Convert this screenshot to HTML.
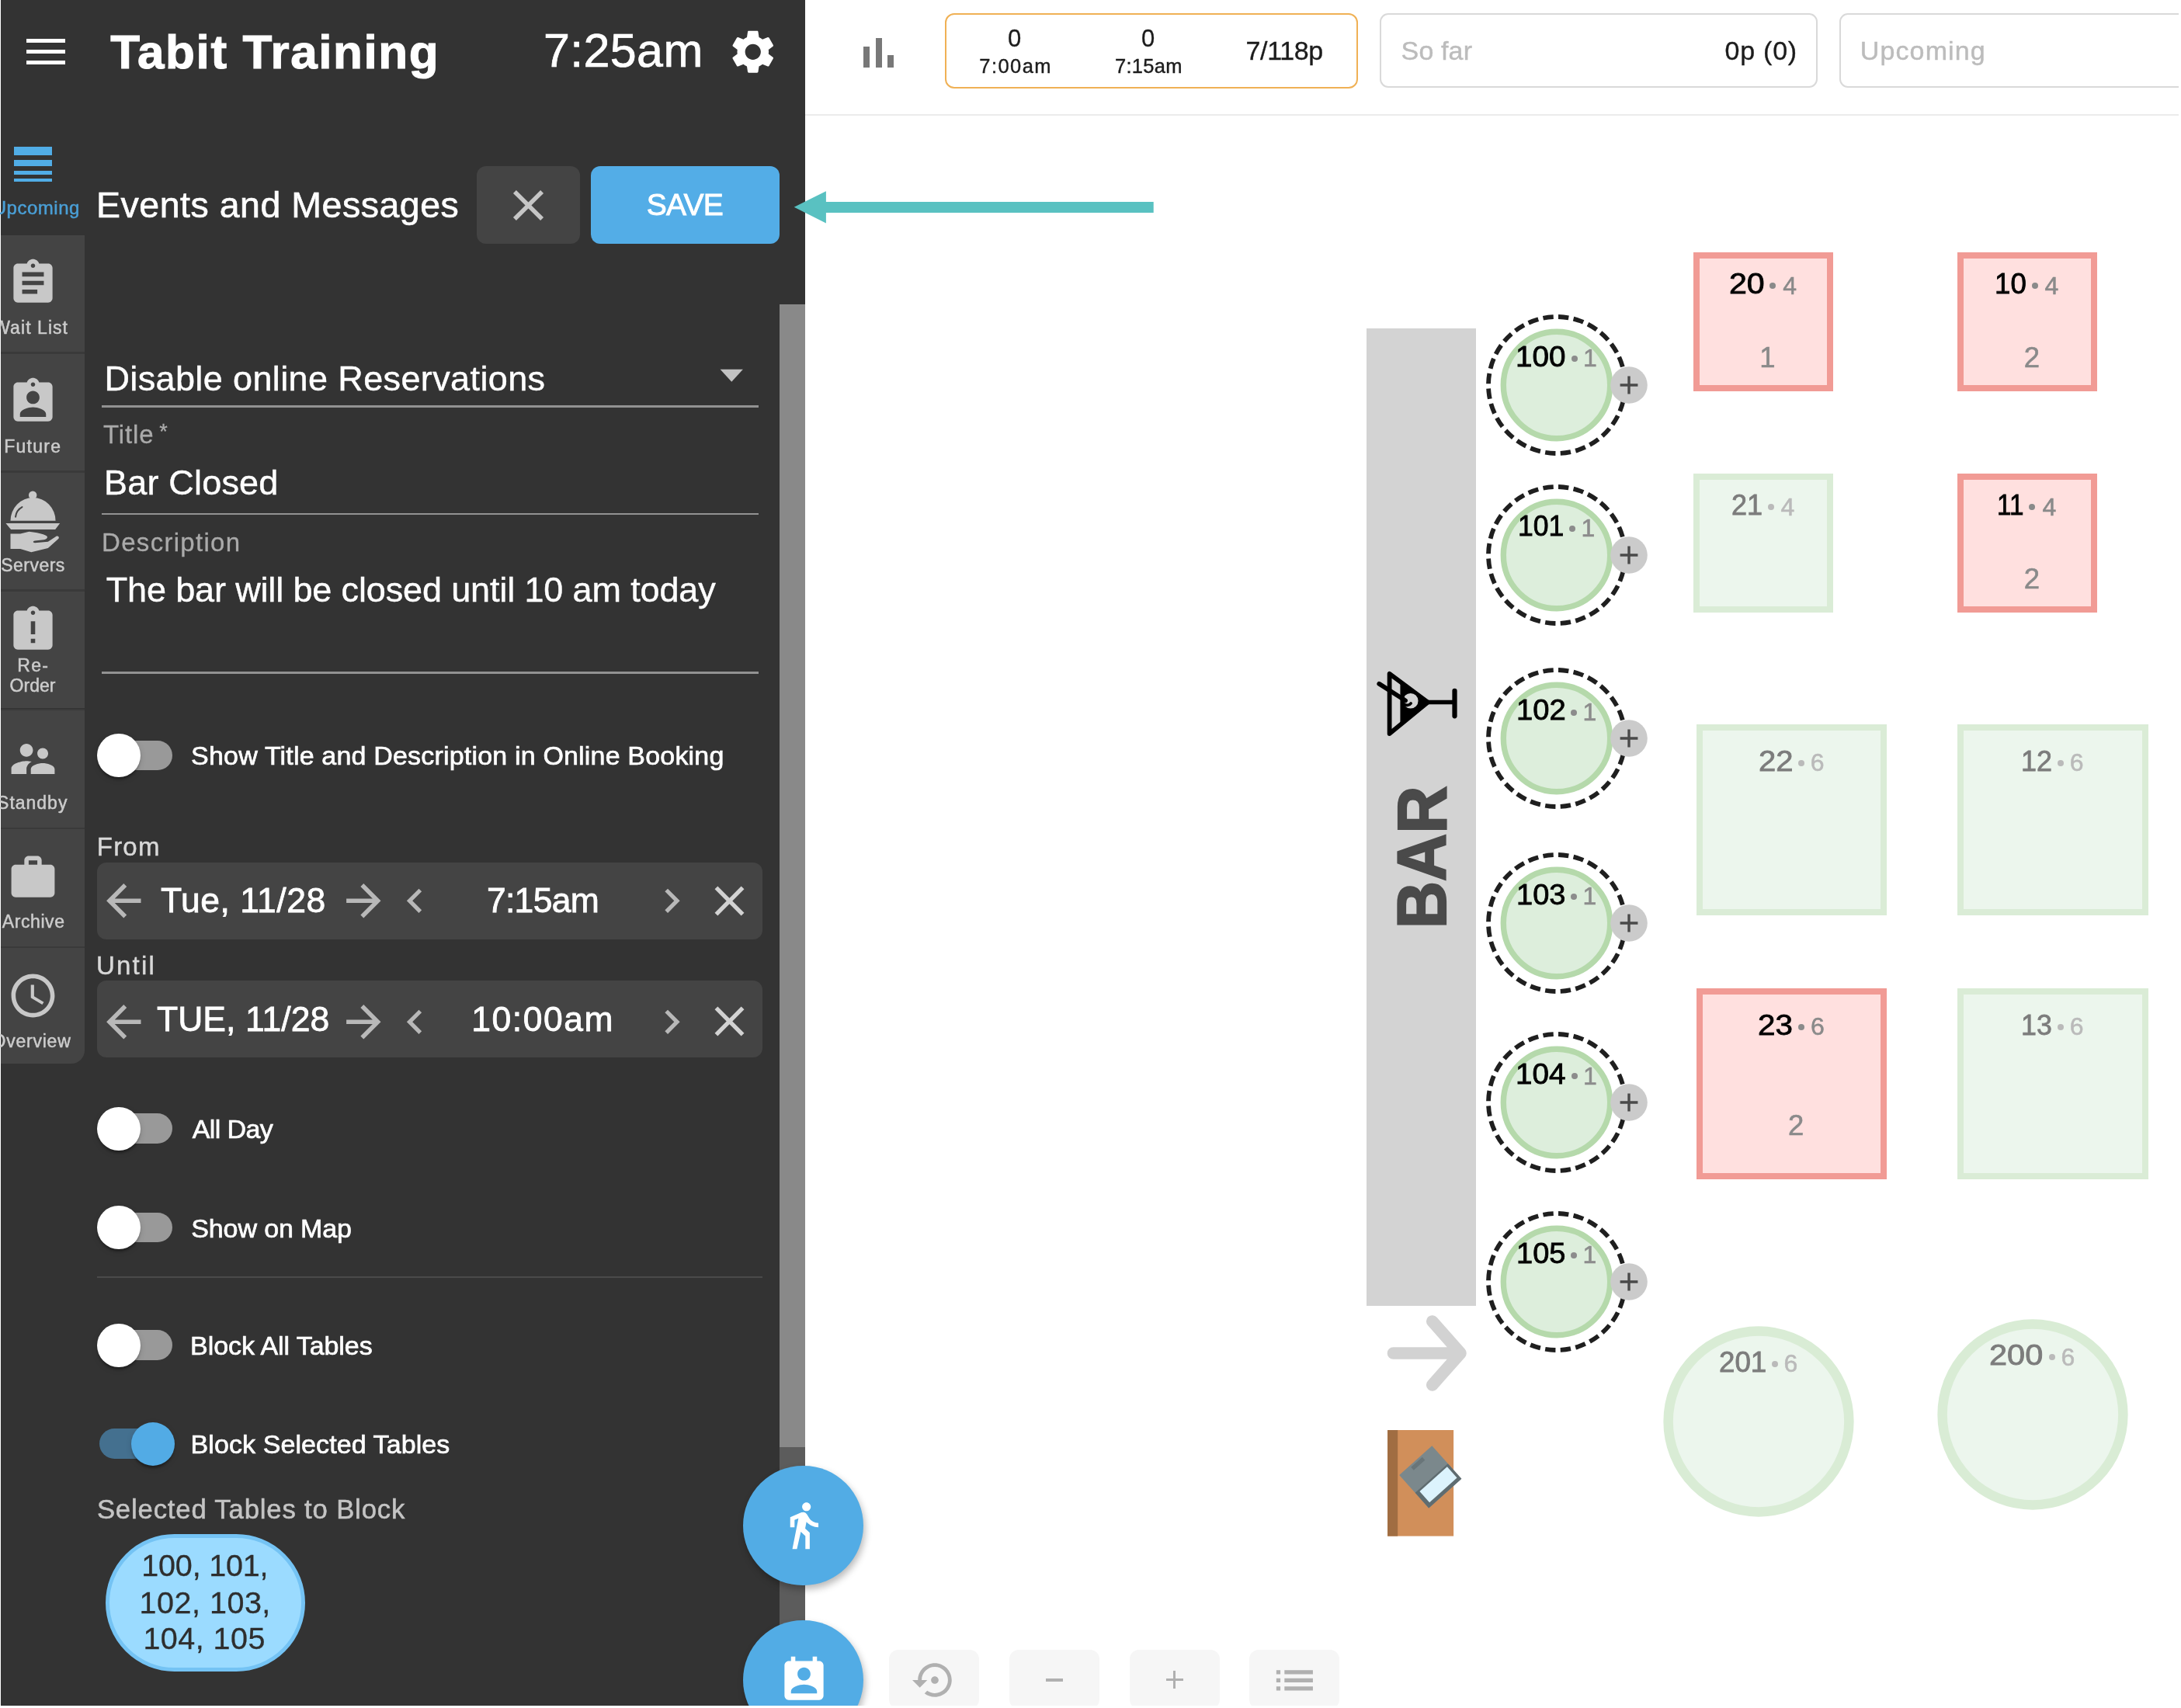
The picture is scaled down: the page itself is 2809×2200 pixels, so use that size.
<!DOCTYPE html>
<html><head><meta charset="utf-8"><title>Tabit Training</title>
<style>
html,body{margin:0;padding:0;}
body{width:2809px;height:2200px;overflow:hidden;background:#fff;position:relative;font-family:"Liberation Sans",sans-serif;}
.b{position:absolute;display:block;}
.t{position:absolute;white-space:nowrap;line-height:1;}
</style></head><body>
<div id="root" style="position:absolute;left:0;top:0;width:2809px;height:2200px;will-change:transform;">
<div class="b" style="left:1px;top:0px;width:1036px;height:2197px;background:#333333;"></div>
<div class="b" style="left:1003.9px;top:392.1px;width:32.9px;height:1805px;background:#5c5c5c;"></div>
<div class="b" style="left:1003.9px;top:392.1px;width:32.9px;height:1471.5px;background:#898989;"></div>
<div class="b" style="left:34px;top:49.5px;width:50px;height:5px;background:#fff;"></div>
<div class="b" style="left:34px;top:63.8px;width:50px;height:5px;background:#fff;"></div>
<div class="b" style="left:34px;top:78px;width:50px;height:5px;background:#fff;"></div>
<div class="t " style="left:142.2px;top:35.9px;font-size:62px;color:#fff;letter-spacing:1.59px;font-weight:bold;-webkit-text-stroke:1.1px #fff;">Tabit Training</div>
<div class="t " style="left:700.0px;top:35.2px;font-size:61px;color:#fff;letter-spacing:0.35px;-webkit-text-stroke:0.7px #fff;">7:25am</div>
<svg class="b" style="left:936.2px;top:33px;" width="67.5" height="67.5" viewBox="0 0 24 24"><path fill="#fff" d="M19.14 12.94c.04-.3.06-.61.06-.94 0-.32-.02-.64-.07-.94l2.03-1.58c.18-.14.23-.41.12-.61l-1.92-3.32c-.12-.22-.37-.29-.59-.22l-2.39.96c-.5-.38-1.03-.7-1.62-.94l-.36-2.54c-.04-.24-.24-.41-.48-.41h-3.84c-.24 0-.43.17-.47.41l-.36 2.54c-.59.24-1.13.57-1.62.94l-2.39-.96c-.22-.08-.47 0-.59.22L2.74 8.87c-.12.21-.08.47.12.61l2.03 1.58c-.05.3-.09.63-.09.94s.02.64.07.94l-2.03 1.58c-.18.14-.23.41-.12.61l1.92 3.32c.12.22.37.29.59.22l2.39-.96c.5.38 1.03.7 1.62.94l.36 2.54c.05.24.24.41.48.41h3.84c.24 0 .44-.17.47-.41l.36-2.54c.59-.24 1.13-.56 1.62-.94l2.39.96c.22.08.47 0 .59-.22l1.92-3.32c.12-.22.07-.47-.12-.61l-2.01-1.58zM12 15.6c-1.98 0-3.6-1.62-3.6-3.6s1.62-3.6 3.6-3.6 3.6 1.62 3.6 3.6-1.62 3.6-3.6 3.6z"/></svg>
<div class="b" style="left:17.6px;top:189px;width:49.8px;height:11.4px;background:#51ade6;"></div>
<div class="b" style="left:17.6px;top:206px;width:49.8px;height:8px;background:#51ade6;"></div>
<div class="b" style="left:17.6px;top:219.7px;width:49.8px;height:5.6px;background:#51ade6;"></div>
<div class="b" style="left:17.6px;top:230.2px;width:49.8px;height:3.5px;background:#51ade6;"></div>
<div class="t" style="left:-9.3px;top:255.7px;font-size:24px;color:#4a9fd6;letter-spacing:0.52px;-webkit-text-stroke:0.5px #4a9fd6;">Upcoming</div>
<div class="b" style="left:1px;top:302.6px;width:107.8px;height:150.6px;background:#444444;"></div>
<div class="b" style="left:1px;top:453.20000000000005px;width:107.8px;height:2.5px;background:#3a3a3a;"></div>
<svg class="b" style="left:9px;top:331.1px;" width="67" height="67" viewBox="0 0 24 24"><path fill="#c8c8c8" d="M19 3h-4.18C14.4 1.84 13.3 1 12 1c-1.3 0-2.4.84-2.82 2H5c-1.1 0-2 .9-2 2v14c0 1.1.9 2 2 2h14c1.1 0 2-.9 2-2V5c0-1.1-.9-2-2-2zm-7 0c.55 0 1 .45 1 1s-.45 1-1 1-1-.45-1-1 .45-1 1-1zm2 14H7v-2h7v2zm3-4H7v-2h10v2zm0-4H7V7h10v2z"/></svg>
<div class="b" style="left:1px;top:455.7px;width:107.8px;height:150.6px;background:#444444;"></div>
<div class="b" style="left:1px;top:606.3px;width:107.8px;height:2.5px;background:#3a3a3a;"></div>
<svg class="b" style="left:9px;top:484.2px;" width="67" height="67" viewBox="0 0 24 24"><path fill="#c8c8c8" d="M19 3h-4.18C14.4 1.84 13.3 1 12 1c-1.3 0-2.4.84-2.82 2H5c-1.1 0-2 .9-2 2v14c0 1.1.9 2 2 2h14c1.1 0 2-.9 2-2V5c0-1.1-.9-2-2-2zm-7 0c.55 0 1 .45 1 1s-.45 1-1 1-1-.45-1-1 .45-1 1-1zm0 4c1.66 0 3 1.34 3 3s-1.34 3-3 3-3-1.34-3-3 1.34-3 3-3zm6 12H6v-1.4c0-2 4-3.1 6-3.1s6 1.1 6 3.1V19z"/></svg>
<div class="b" style="left:1px;top:608.8px;width:107.8px;height:150.6px;background:#444444;"></div>
<div class="b" style="left:1px;top:759.4px;width:107.8px;height:2.5px;background:#3a3a3a;"></div>
<svg class="b" style="left:0px;top:600.9px" width="82.46" height="116.2" viewBox="0 0 440 620"><g fill="#c8c8c8"><circle cx="225" cy="196" r="28"/><path d="M72 372A155 158 0 0 1 382 372Z"/><path d="M40 390H412L380 432H75Z"/><path d="M72 462H140L200 447C250 452 300 462 322 478C330 488 322 500 300 503L240 510C225 512 225 524 240 524L330 516L385 480C400 472 412 488 400 498L330 560L215 588L140 565H72Z"/></g><path d="M107 345C110 315 130 290 152 278" fill="none" stroke="#444" stroke-width="11" stroke-linecap="round"/></svg>
<div class="b" style="left:1px;top:761.9px;width:107.8px;height:150.6px;background:#444444;"></div>
<div class="b" style="left:1px;top:912.5px;width:107.8px;height:2.5px;background:#3a3a3a;"></div>
<svg class="b" style="left:9px;top:777.6px;" width="67" height="67" viewBox="0 0 24 24"><path fill="#c8c8c8" d="M19 3h-4.18C14.4 1.84 13.3 1 12 1c-1.3 0-2.4.84-2.82 2H5c-1.1 0-2 .9-2 2v14c0 1.1.9 2 2 2h14c1.1 0 2-.9 2-2V5c0-1.1-.9-2-2-2zm-6 15h-2v-2h2v2zm0-4h-2V8h2v6zm-1-9c-.55 0-1-.45-1-1s.45-1 1-1 1 .45 1 1-.45 1-1 1z"/></svg>
<div class="t " style="left:22.2px;top:845.8px;font-size:23px;color:#ccc;letter-spacing:1.38px;-webkit-text-stroke:0.5px #ccc;">Re-</div>
<div class="t " style="left:12.5px;top:871.7px;font-size:23px;color:#ccc;letter-spacing:0.06px;-webkit-text-stroke:0.5px #ccc;">Order</div>
<div class="b" style="left:1px;top:915.0px;width:107.8px;height:150.6px;background:#444444;"></div>
<div class="b" style="left:1px;top:1065.6px;width:107.8px;height:2.5px;background:#3a3a3a;"></div>
<svg class="b" style="left:9px;top:943.5px;" width="67" height="67" viewBox="0 0 24 24"><path fill="#c8c8c8" d="M16.5 12c1.38 0 2.49-1.12 2.49-2.5S17.88 7 16.5 7C15.12 7 14 8.12 14 9.5s1.12 2.5 2.5 2.5zM9 11c1.66 0 2.99-1.34 2.99-3S10.66 5 9 5C7.34 5 6 6.34 6 8s1.34 3 3 3zm7.5 3c-1.83 0-5.5.92-5.5 2.75V19h11v-2.25c0-1.83-3.67-2.75-5.5-2.75zM9 13c-2.33 0-7 1.17-7 3.5V19h7v-2.25c0-.85.33-2.34 2.37-3.47C10.5 13.1 9.66 13 9 13z"/></svg>
<div class="b" style="left:1px;top:1068.1px;width:107.8px;height:150.6px;background:#444444;"></div>
<div class="b" style="left:1px;top:1218.6999999999998px;width:107.8px;height:2.5px;background:#3a3a3a;"></div>
<svg class="b" style="left:9px;top:1096.6px;" width="67" height="67" viewBox="0 0 24 24"><path fill="#c8c8c8" d="M20 6h-4V4c0-1.11-.89-2-2-2h-4c-1.11 0-2 .89-2 2v2H4c-1.11 0-1.99.89-1.99 2L2 19c0 1.11.89 2 2 2h16c1.11 0 2-.89 2-2V8c0-1.11-.89-2-2-2zm-6 0h-4V4h4v2z"/></svg>
<div class="b" style="left:1px;top:1221.2px;width:107.8px;height:149.3px;background:#444444;border-bottom-right-radius:17px;"></div>
<svg class="b" style="left:9px;top:1248.8px;" width="67" height="67" viewBox="0 0 24 24"><path fill="#c8c8c8" d="M11.99 2C6.47 2 2 6.48 2 12s4.47 10 9.99 10C17.52 22 22 17.52 22 12S17.52 2 11.99 2zM12 20c-4.42 0-8-3.58-8-8s3.58-8 8-8 8 3.58 8 8-3.58 8-8 8zm.5-13H11v6l5.25 3.15.75-1.23-4.5-2.67z"/></svg>
<div class="t" style="left:-8.8px;top:410.5px;font-size:23px;color:#ccc;letter-spacing:1.06px;-webkit-text-stroke:0.5px #ccc;">Wait List</div>
<div class="t" style="left:5.2px;top:563.6px;font-size:23px;color:#ccc;letter-spacing:1.26px;-webkit-text-stroke:0.5px #ccc;">Future</div>
<div class="t" style="left:1.2px;top:716.7px;font-size:23px;color:#ccc;letter-spacing:0.48px;-webkit-text-stroke:0.5px #ccc;">Servers</div>
<div class="t" style="left:-3.9px;top:1022.9px;font-size:23px;color:#ccc;letter-spacing:0.98px;-webkit-text-stroke:0.5px #ccc;">Standby</div>
<div class="t" style="left:2.8px;top:1176.0px;font-size:23px;color:#ccc;letter-spacing:0.58px;-webkit-text-stroke:0.5px #ccc;">Archive</div>
<div class="t" style="left:-10.4px;top:1329.6px;font-size:23px;color:#ccc;letter-spacing:0.76px;-webkit-text-stroke:0.5px #ccc;">Overview</div>
<div class="t " style="left:124.0px;top:241.1px;font-size:46.5px;color:#fff;letter-spacing:0.52px;-webkit-text-stroke:0.65px #fff;">Events and Messages</div>
<div class="b" style="left:614.3px;top:213.8px;width:133px;height:100px;background:#444444;border-radius:12px;"></div>
<svg class="b" style="left:647.3px;top:230.5px;" width="67" height="67" viewBox="0 0 24 24"><path fill="#c6c6c6" d="M19 6.41L17.59 5 12 10.59 6.41 5 5 6.41 10.59 12 5 17.59 6.41 19 12 13.41 17.59 19 19 17.59 13.41 12z"/></svg>
<div class="b" style="left:760.9px;top:213.8px;width:243.4px;height:100px;background:#53ade7;border-radius:12px;"></div>
<div class="t " style="left:832.7px;top:243.5px;font-size:39px;color:#fff;letter-spacing:-0.72px;-webkit-text-stroke:0.9px #fff;">SAVE</div>
<div class="t " style="left:134.4px;top:464.5px;font-size:45px;color:#fff;letter-spacing:0.38px;-webkit-text-stroke:0.45px #fff;">Disable online Reservations</div>
<svg class="b" style="left:927px;top:475px" width="31" height="18" viewBox="0 0 31 18"><path d="M0.6 0.8H29.9L15.25 16.7Z" fill="#c2c2c2"/></svg>
<div class="b" style="left:131px;top:522px;width:846px;height:2.8px;background:#929292;"></div>
<div class="t " style="left:133.0px;top:542.9px;font-size:33px;color:#aaa;letter-spacing:0.85px;-webkit-text-stroke:0.3px #aaa;">Title</div>
<div class="t " style="left:205.3px;top:543.3px;font-size:27px;color:#aaa;-webkit-text-stroke:0.3px #aaa;">*</div>
<div class="t " style="left:134.0px;top:599.1px;font-size:45px;color:#fff;letter-spacing:0.19px;-webkit-text-stroke:0.45px #fff;">Bar Closed</div>
<div class="b" style="left:131px;top:660.6px;width:846px;height:2.8px;background:#929292;"></div>
<div class="t " style="left:131.1px;top:681.9px;font-size:33px;color:#aaa;letter-spacing:1.29px;-webkit-text-stroke:0.3px #aaa;">Description</div>
<div class="t " style="left:136.7px;top:737.4px;font-size:45px;color:#fff;letter-spacing:-0.14px;-webkit-text-stroke:0.45px #fff;">The bar will be closed until 10 am today</div>
<div class="b" style="left:131px;top:865px;width:846px;height:2.8px;background:#929292;"></div>
<div class="b" style="left:128px;top:953.5px;width:94px;height:38.8px;background:#999999;border-radius:19.4px;"></div>
<div class="b" style="left:124.9px;top:945.0px;width:55.8px;height:55.8px;background:#fff;border-radius:50%;box-shadow:0 5.6px 2.8px -2.8px rgba(0,0,0,.2),0 2.8px 2.8px 0 rgba(0,0,0,.14),0 2.8px 8.4px 0 rgba(0,0,0,.12);"></div>
<div class="t " style="left:246.1px;top:956.0px;font-size:34px;color:#fff;letter-spacing:0.18px;-webkit-text-stroke:0.7px #fff;">Show Title and Description in Online Booking</div>
<div class="t " style="left:124.8px;top:1074.3px;font-size:33px;color:#d8d8d8;letter-spacing:1.21px;-webkit-text-stroke:0.45px #d8d8d8;">From</div>
<div class="b" style="left:125.3px;top:1110.6px;width:856.7px;height:99.9px;background:#444444;border-radius:12px;"></div>
<svg class="b" style="left:125.7px;top:1127.3px;" width="66.6" height="66.6" viewBox="0 0 24 24"><path fill="#b8b8b8" d="M20 11H7.83l5.59-5.59L12 4l-8 8 8 8 1.41-1.41L7.83 13H20v-2z"/></svg>
<div class="t " style="left:206.9px;top:1138.1px;font-size:44.5px;color:#fff;letter-spacing:0.50px;-webkit-text-stroke:0.8px #fff;">Tue, 11/28</div>
<svg class="b" style="left:435.2px;top:1127.3px;" width="66.6" height="66.6" viewBox="0 0 24 24"><path fill="#b8b8b8" d="M12 4l-1.41 1.41L16.17 11H4v2h12.17l-5.58 5.59L12 20l8-8z"/></svg>
<svg class="b" style="left:503.1px;top:1129.3999999999999px;" width="62.5" height="62.5" viewBox="0 0 24 24"><path fill="#b8b8b8" d="M15.41 7.41L14 6l-6 6 6 6 1.41-1.41L10.83 12z"/></svg>
<div class="t " style="left:626.9px;top:1138.1px;font-size:44.5px;color:#fff;letter-spacing:-0.70px;-webkit-text-stroke:0.8px #fff;">7:15am</div>
<svg class="b" style="left:833.8px;top:1129.3999999999999px;" width="62.5" height="62.5" viewBox="0 0 24 24"><path fill="#b8b8b8" d="M10 6L8.59 7.41 13.17 12l-4.58 4.59L10 18l6-6z"/></svg>
<svg class="b" style="left:907.4px;top:1128.1px;" width="65" height="65" viewBox="0 0 24 24"><path fill="#d2d2d2" d="M19 6.41L17.59 5 12 10.59 6.41 5 5 6.41 10.59 12 5 17.59 6.41 19 12 13.41 17.59 19 19 17.59 13.41 12z"/></svg>
<div class="t " style="left:124.0px;top:1227.1px;font-size:33px;color:#d8d8d8;letter-spacing:2.18px;-webkit-text-stroke:0.45px #d8d8d8;">Until</div>
<div class="b" style="left:125.3px;top:1263.3px;width:856.7px;height:99.1px;background:#444444;border-radius:12px;"></div>
<svg class="b" style="left:125.7px;top:1282.5px;" width="66.6" height="66.6" viewBox="0 0 24 24"><path fill="#b8b8b8" d="M20 11H7.83l5.59-5.59L12 4l-8 8 8 8 1.41-1.41L7.83 13H20v-2z"/></svg>
<div class="t " style="left:201.9px;top:1290.7px;font-size:44.5px;color:#fff;letter-spacing:0.06px;-webkit-text-stroke:0.8px #fff;">TUE, 11/28</div>
<svg class="b" style="left:435.2px;top:1282.5px;" width="66.6" height="66.6" viewBox="0 0 24 24"><path fill="#b8b8b8" d="M12 4l-1.41 1.41L16.17 11H4v2h12.17l-5.58 5.59L12 20l8-8z"/></svg>
<svg class="b" style="left:503.1px;top:1284.6px;" width="62.5" height="62.5" viewBox="0 0 24 24"><path fill="#b8b8b8" d="M15.41 7.41L14 6l-6 6 6 6 1.41-1.41L10.83 12z"/></svg>
<div class="t " style="left:607.3px;top:1290.7px;font-size:44.5px;color:#fff;letter-spacing:1.53px;-webkit-text-stroke:0.8px #fff;">10:00am</div>
<svg class="b" style="left:833.8px;top:1284.6px;" width="62.5" height="62.5" viewBox="0 0 24 24"><path fill="#b8b8b8" d="M10 6L8.59 7.41 13.17 12l-4.58 4.59L10 18l6-6z"/></svg>
<svg class="b" style="left:907.4px;top:1283.3px;" width="65" height="65" viewBox="0 0 24 24"><path fill="#d2d2d2" d="M19 6.41L17.59 5 12 10.59 6.41 5 5 6.41 10.59 12 5 17.59 6.41 19 12 13.41 17.59 19 19 17.59 13.41 12z"/></svg>
<div class="b" style="left:128px;top:1434.3px;width:94px;height:38.8px;background:#999999;border-radius:19.4px;"></div>
<div class="b" style="left:124.9px;top:1425.8px;width:55.8px;height:55.8px;background:#fff;border-radius:50%;box-shadow:0 5.6px 2.8px -2.8px rgba(0,0,0,.2),0 2.8px 2.8px 0 rgba(0,0,0,.14),0 2.8px 8.4px 0 rgba(0,0,0,.12);"></div>
<div class="t " style="left:247.8px;top:1436.9px;font-size:34px;color:#fff;letter-spacing:-0.62px;-webkit-text-stroke:0.7px #fff;">All Day</div>
<div class="b" style="left:128px;top:1561.6px;width:94px;height:38.8px;background:#999999;border-radius:19.4px;"></div>
<div class="b" style="left:124.9px;top:1553.1px;width:55.8px;height:55.8px;background:#fff;border-radius:50%;box-shadow:0 5.6px 2.8px -2.8px rgba(0,0,0,.2),0 2.8px 2.8px 0 rgba(0,0,0,.14),0 2.8px 8.4px 0 rgba(0,0,0,.12);"></div>
<div class="t " style="left:246.3px;top:1564.5px;font-size:34px;color:#fff;letter-spacing:-0.13px;-webkit-text-stroke:0.7px #fff;">Show on Map</div>
<div class="b" style="left:125px;top:1643.5px;width:857px;height:2.5px;background:#4a4a4a;"></div>
<div class="b" style="left:128px;top:1713.3px;width:94px;height:38.8px;background:#999999;border-radius:19.4px;"></div>
<div class="b" style="left:124.9px;top:1704.8px;width:55.8px;height:55.8px;background:#fff;border-radius:50%;box-shadow:0 5.6px 2.8px -2.8px rgba(0,0,0,.2),0 2.8px 2.8px 0 rgba(0,0,0,.14),0 2.8px 8.4px 0 rgba(0,0,0,.12);"></div>
<div class="t " style="left:245.1px;top:1716.2px;font-size:34px;color:#fff;letter-spacing:-0.07px;-webkit-text-stroke:0.7px #fff;">Block All Tables</div>
<div class="b" style="left:127.9px;top:1840.4px;width:94px;height:39px;background:#44708f;border-radius:19.5px;"></div>
<div class="b" style="left:169.1px;top:1831.9px;width:56px;height:56px;background:#52abe5;border-radius:50%;box-shadow:0 5.6px 2.8px -2.8px rgba(0,0,0,.2),0 2.8px 2.8px 0 rgba(0,0,0,.14),0 2.8px 8.4px 0 rgba(0,0,0,.12);"></div>
<div class="t " style="left:245.5px;top:1842.8px;font-size:34px;color:#fff;letter-spacing:0.09px;-webkit-text-stroke:0.7px #fff;">Block Selected Tables</div>
<div class="t " style="left:124.9px;top:1927.1px;font-size:34.7px;color:#c4c4c4;letter-spacing:0.83px;-webkit-text-stroke:0.55px #c4c4c4;">Selected Tables to Block</div>
<div class="b" style="left:136.2px;top:1975.8px;width:256.8px;height:177.5px;background:#9bdbff;border-radius:89px;box-sizing:border-box;border:5.2px solid #74c3f4;"></div>
<div class="t " style="left:182.3px;top:1997.4px;font-size:39.5px;color:#2e2e2e;letter-spacing:-0.19px;-webkit-text-stroke:0.3px #2e2e2e;">100, 101,</div>
<div class="t " style="left:179.6px;top:2044.5px;font-size:39.5px;color:#2e2e2e;letter-spacing:0.50px;-webkit-text-stroke:0.3px #2e2e2e;">102, 103,</div>
<div class="t " style="left:184.4px;top:2091.2px;font-size:39.5px;color:#2e2e2e;letter-spacing:0.46px;-webkit-text-stroke:0.3px #2e2e2e;">104, 105</div>
<div class="b" style="left:1037px;top:146.5px;width:1772px;height:2.2px;background:#ebebeb;"></div>
<div class="b" style="left:1112px;top:60.4px;width:8.2px;height:26.8px;background:#787878;"></div>
<div class="b" style="left:1127.5px;top:48.5px;width:8.2px;height:38.7px;background:#787878;"></div>
<div class="b" style="left:1142.8px;top:70.6px;width:8px;height:16.6px;background:#787878;"></div>
<div class="b" style="left:1217.3px;top:16.6px;width:531.3px;height:97.2px;background:#fff;box-sizing:border-box;border:2.2px solid #f0b155;border-radius:12px;"></div>
<div class="t " style="left:1298.1px;top:33.7px;font-size:31px;color:#1c1c1c;-webkit-text-stroke:0.3px #1c1c1c;">0</div>
<div class="t " style="left:1261.3px;top:72.6px;font-size:25.5px;color:#1c1c1c;letter-spacing:1.45px;-webkit-text-stroke:0.4px #1c1c1c;">7:00am</div>
<div class="t " style="left:1470.1px;top:33.7px;font-size:31px;color:#1c1c1c;-webkit-text-stroke:0.3px #1c1c1c;">0</div>
<div class="t " style="left:1436.1px;top:72.6px;font-size:25.5px;color:#1c1c1c;letter-spacing:0.25px;-webkit-text-stroke:0.4px #1c1c1c;">7:15am</div>
<div class="t " style="left:1604.5px;top:47.6px;font-size:34px;color:#1c1c1c;letter-spacing:-0.35px;-webkit-text-stroke:0.35px #1c1c1c;">7/118p</div>
<div class="b" style="left:1777.3px;top:16.8px;width:564.2px;height:96.2px;background:#fff;box-sizing:border-box;border:2.2px solid #d9d9d9;border-radius:11px;"></div>
<div class="t " style="left:1804.6px;top:47.6px;font-size:34px;color:#bcbcbc;letter-spacing:0.13px;-webkit-text-stroke:0.45px #bcbcbc;">So far</div>
<div class="t " style="left:2221.5px;top:47.6px;font-size:34px;color:#1c1c1c;letter-spacing:0.77px;-webkit-text-stroke:0.35px #1c1c1c;">0p (0)</div>
<div class="b" style="left:2368.5px;top:16.8px;width:500px;height:96.2px;background:#fff;box-sizing:border-box;border:2.2px solid #d9d9d9;border-radius:11px;"></div>
<div class="t " style="left:2395.8px;top:47.6px;font-size:34px;color:#bcbcbc;letter-spacing:1.12px;-webkit-text-stroke:0.45px #bcbcbc;">Upcoming</div>
<svg class="b" style="left:1015px;top:240px" width="480" height="54" viewBox="0 0 480 54"><path fill="#59c1c1" d="M7.7 26.7L48.9 6.2V20.1H470.7V33.9H48.9V47.5Z"/></svg>
<div class="b" style="left:1759.8px;top:423.2px;width:141.1px;height:1258.4px;background:#d3d3d3;"></div>
<div class="b" style="left:1863.9px;top:1191.5px;width:0;height:0;transform:rotate(-90deg) scale(0.9486,1);transform-origin:0 0;">
<div class="t " style="left:-4.6px;top:-76.9px;font-size:89.5px;color:#4a4a4a;font-weight:bold;-webkit-text-stroke:2.2px #4a4a4a;">BAR</div>
</div>
<svg class="b" style="left:1750px;top:840px" width="160" height="134" viewBox="0 0 719 602"><path d="M178 125L178 472L400 290Z" fill="none" stroke="#000" stroke-width="26" stroke-linejoin="round"/><path d="M240 168L400 290L240 424Z" fill="#000"/><circle cx="300" cy="282" r="44" fill="#d3d3d3"/><path d="M118 183L270 280" fill="none" stroke="#000" stroke-width="26" stroke-linecap="round"/><path d="M258 264A26 26 0 0 0 302 296" fill="none" stroke="#000" stroke-width="16" stroke-linecap="round"/><path d="M400 290H555" stroke="#000" stroke-width="25"/><path d="M555 224V370" stroke="#000" stroke-width="28" stroke-linecap="round"/></svg>
<div class="b" style="left:2181.3px;top:324.9px;width:179.4px;height:179.4px;background:#ffe0df;box-sizing:border-box;border:8.6px solid #f19b95;"></div>
<div class="t" style="left:2226.6px;top:348.1px;font-size:36px;color:#000;-webkit-text-stroke:0.8px #000;transform:scaleX(1.1423);transform-origin:0 50%;">20</div>
<div class="b" style="left:2279.3px;top:364.3px;width:8px;height:8px;background:#8a8a8a;border-radius:50%;"></div>
<div class="t " style="left:2296.3px;top:351.5px;font-size:32px;color:#8a8a8a;-webkit-text-stroke:0.55px #8a8a8a;">4</div>
<div class="t " style="left:2266.3px;top:443.0px;font-size:36.5px;color:#8a8a8a;-webkit-text-stroke:0.6px #8a8a8a;">1</div>
<div class="b" style="left:2521.3px;top:324.9px;width:179.4px;height:179.4px;background:#ffe0df;box-sizing:border-box;border:8.6px solid #f19b95;"></div>
<div class="t" style="left:2568.7px;top:348.1px;font-size:36px;color:#000;-webkit-text-stroke:0.8px #000;transform:scaleX(1.0183);transform-origin:0 50%;">10</div>
<div class="b" style="left:2616.5px;top:364.3px;width:8px;height:8px;background:#8a8a8a;border-radius:50%;"></div>
<div class="t " style="left:2633.6px;top:351.5px;font-size:32px;color:#8a8a8a;-webkit-text-stroke:0.55px #8a8a8a;">4</div>
<div class="t " style="left:2606.8px;top:443.0px;font-size:36.5px;color:#8a8a8a;-webkit-text-stroke:0.6px #8a8a8a;">2</div>
<div class="b" style="left:2181.3px;top:609.9px;width:179.4px;height:179.4px;background:#ecf6ed;box-sizing:border-box;border:8.6px solid #daecd6;"></div>
<div class="t" style="left:2229.7px;top:633.1px;font-size:36px;color:#7c7c7c;-webkit-text-stroke:0.8px #7c7c7c;transform:scaleX(1.0005);transform-origin:0 50%;">21</div>
<div class="b" style="left:2276.5px;top:649.3px;width:8px;height:8px;background:#bababa;border-radius:50%;"></div>
<div class="t " style="left:2293.5px;top:636.5px;font-size:32px;color:#bababa;-webkit-text-stroke:0.55px #bababa;">4</div>
<div class="b" style="left:2521.3px;top:609.9px;width:179.4px;height:179.4px;background:#ffe0df;box-sizing:border-box;border:8.6px solid #f19b95;"></div>
<div class="t" style="left:2572.0px;top:633.1px;font-size:36px;color:#000;-webkit-text-stroke:0.8px #000;transform:scaleX(0.9240);transform-origin:0 50%;">11</div>
<div class="b" style="left:2613.4px;top:649.3px;width:8px;height:8px;background:#8a8a8a;border-radius:50%;"></div>
<div class="t " style="left:2630.5px;top:636.5px;font-size:32px;color:#8a8a8a;-webkit-text-stroke:0.55px #8a8a8a;">4</div>
<div class="t " style="left:2606.8px;top:728.0px;font-size:36.5px;color:#8a8a8a;-webkit-text-stroke:0.6px #8a8a8a;">2</div>
<div class="b" style="left:2184.6px;top:933.3px;width:245.4px;height:245.4px;background:#ecf6ed;box-sizing:border-box;border:8px solid #daecd6;"></div>
<div class="t" style="left:2264.5px;top:962.7px;font-size:36px;color:#7c7c7c;-webkit-text-stroke:0.8px #7c7c7c;transform:scaleX(1.1126);transform-origin:0 50%;">22</div>
<div class="b" style="left:2315.6px;top:978.9px;width:8px;height:8px;background:#bababa;border-radius:50%;"></div>
<div class="t " style="left:2331.7px;top:966.1px;font-size:32px;color:#bababa;-webkit-text-stroke:0.55px #bababa;">6</div>
<div class="b" style="left:2521.3px;top:933.3px;width:245.4px;height:245.4px;background:#ecf6ed;box-sizing:border-box;border:8px solid #daecd6;"></div>
<div class="t" style="left:2603.0px;top:962.7px;font-size:36px;color:#7c7c7c;-webkit-text-stroke:0.8px #7c7c7c;transform:scaleX(0.9977);transform-origin:0 50%;">12</div>
<div class="b" style="left:2649.7px;top:978.9px;width:8px;height:8px;background:#bababa;border-radius:50%;"></div>
<div class="t " style="left:2665.8px;top:966.1px;font-size:32px;color:#bababa;-webkit-text-stroke:0.55px #bababa;">6</div>
<div class="b" style="left:2184.6px;top:1273.4px;width:245.4px;height:245.4px;background:#ffe0df;box-sizing:border-box;border:8px solid #f19b95;"></div>
<div class="t" style="left:2264.2px;top:1302.8px;font-size:36px;color:#000;-webkit-text-stroke:0.8px #000;transform:scaleX(1.1207);transform-origin:0 50%;">23</div>
<div class="b" style="left:2315.8px;top:1319.0px;width:8px;height:8px;background:#8a8a8a;border-radius:50%;"></div>
<div class="t " style="left:2331.9px;top:1306.2px;font-size:32px;color:#8a8a8a;-webkit-text-stroke:0.55px #8a8a8a;">6</div>
<div class="t " style="left:2303.1px;top:1432.0px;font-size:36.5px;color:#8a8a8a;-webkit-text-stroke:0.6px #8a8a8a;">2</div>
<div class="b" style="left:2521.3px;top:1273.4px;width:245.4px;height:245.4px;background:#ecf6ed;box-sizing:border-box;border:8px solid #daecd6;"></div>
<div class="t" style="left:2603.0px;top:1302.8px;font-size:36px;color:#7c7c7c;-webkit-text-stroke:0.8px #7c7c7c;transform:scaleX(0.9927);transform-origin:0 50%;">13</div>
<div class="b" style="left:2649.7px;top:1319.0px;width:8px;height:8px;background:#bababa;border-radius:50%;"></div>
<div class="t " style="left:2665.8px;top:1306.2px;font-size:32px;color:#bababa;-webkit-text-stroke:0.55px #bababa;">6</div>
<svg class="b" style="left:1909.2px;top:399.7px" width="250" height="192" viewBox="-96 -96 250 192"><circle r="88" fill="#fff" stroke="#1f1f1f" stroke-width="5.8" stroke-dasharray="13.3 6.447" stroke-dashoffset="-1.4"/><circle r="68.7" fill="#ddeedc" stroke="#b5d9ab" stroke-width="7.4"/><circle cx="93" cy="0" r="23.8" fill="#cbcbcb"/><path d="M81.6 0H104.4M93 -11.4V11.4" stroke="#4a4a4a" stroke-width="3.4" fill="none"/></svg>
<div class="t" style="left:1952.2px;top:441.6px;font-size:36px;color:#000;-webkit-text-stroke:0.8px #000;transform:scaleX(1.0738);transform-origin:0 50%;">100</div>
<div class="b" style="left:2023.7px;top:457.8px;width:8px;height:8px;background:#8c8c8c;border-radius:50%;"></div>
<div class="t " style="left:2039.0px;top:445.0px;font-size:32px;color:#8c8c8c;-webkit-text-stroke:0.55px #8c8c8c;">1</div>
<svg class="b" style="left:1909.2px;top:618.5px" width="250" height="192" viewBox="-96 -96 250 192"><circle r="88" fill="#fff" stroke="#1f1f1f" stroke-width="5.8" stroke-dasharray="13.3 6.447" stroke-dashoffset="-1.4"/><circle r="68.7" fill="#ddeedc" stroke="#b5d9ab" stroke-width="7.4"/><circle cx="93" cy="0" r="23.8" fill="#cbcbcb"/><path d="M81.6 0H104.4M93 -11.4V11.4" stroke="#4a4a4a" stroke-width="3.4" fill="none"/></svg>
<div class="t" style="left:1955.0px;top:660.4px;font-size:36px;color:#000;-webkit-text-stroke:0.8px #000;transform:scaleX(0.9874);transform-origin:0 50%;">101</div>
<div class="b" style="left:2021.1px;top:676.6px;width:8px;height:8px;background:#8c8c8c;border-radius:50%;"></div>
<div class="t " style="left:2036.4px;top:663.8px;font-size:32px;color:#8c8c8c;-webkit-text-stroke:0.55px #8c8c8c;">1</div>
<svg class="b" style="left:1909.2px;top:855.4px" width="250" height="192" viewBox="-96 -96 250 192"><circle r="88" fill="#fff" stroke="#1f1f1f" stroke-width="5.8" stroke-dasharray="13.3 6.447" stroke-dashoffset="-1.4"/><circle r="68.7" fill="#ddeedc" stroke="#b5d9ab" stroke-width="7.4"/><circle cx="93" cy="0" r="23.8" fill="#cbcbcb"/><path d="M81.6 0H104.4M93 -11.4V11.4" stroke="#4a4a4a" stroke-width="3.4" fill="none"/></svg>
<div class="t" style="left:1952.8px;top:897.3px;font-size:36px;color:#000;-webkit-text-stroke:0.8px #000;transform:scaleX(1.0592);transform-origin:0 50%;">102</div>
<div class="b" style="left:2023.1px;top:913.5px;width:8px;height:8px;background:#8c8c8c;border-radius:50%;"></div>
<div class="t " style="left:2038.4px;top:900.7px;font-size:32px;color:#8c8c8c;-webkit-text-stroke:0.55px #8c8c8c;">1</div>
<svg class="b" style="left:1909.2px;top:1092.7px" width="250" height="192" viewBox="-96 -96 250 192"><circle r="88" fill="#fff" stroke="#1f1f1f" stroke-width="5.8" stroke-dasharray="13.3 6.447" stroke-dashoffset="-1.4"/><circle r="68.7" fill="#ddeedc" stroke="#b5d9ab" stroke-width="7.4"/><circle cx="93" cy="0" r="23.8" fill="#cbcbcb"/><path d="M81.6 0H104.4M93 -11.4V11.4" stroke="#4a4a4a" stroke-width="3.4" fill="none"/></svg>
<div class="t" style="left:1952.8px;top:1134.6px;font-size:36px;color:#000;-webkit-text-stroke:0.8px #000;transform:scaleX(1.0558);transform-origin:0 50%;">103</div>
<div class="b" style="left:2023.1px;top:1150.8px;width:8px;height:8px;background:#8c8c8c;border-radius:50%;"></div>
<div class="t " style="left:2038.4px;top:1138.0px;font-size:32px;color:#8c8c8c;-webkit-text-stroke:0.55px #8c8c8c;">1</div>
<svg class="b" style="left:1909.2px;top:1324.3px" width="250" height="192" viewBox="-96 -96 250 192"><circle r="88" fill="#fff" stroke="#1f1f1f" stroke-width="5.8" stroke-dasharray="13.3 6.447" stroke-dashoffset="-1.4"/><circle r="68.7" fill="#ddeedc" stroke="#b5d9ab" stroke-width="7.4"/><circle cx="93" cy="0" r="23.8" fill="#cbcbcb"/><path d="M81.6 0H104.4M93 -11.4V11.4" stroke="#4a4a4a" stroke-width="3.4" fill="none"/></svg>
<div class="t" style="left:1952.0px;top:1366.2px;font-size:36px;color:#000;-webkit-text-stroke:0.8px #000;transform:scaleX(1.0723);transform-origin:0 50%;">104</div>
<div class="b" style="left:2023.8px;top:1382.4px;width:8px;height:8px;background:#8c8c8c;border-radius:50%;"></div>
<div class="t " style="left:2039.1px;top:1369.6px;font-size:32px;color:#8c8c8c;-webkit-text-stroke:0.55px #8c8c8c;">1</div>
<svg class="b" style="left:1909.2px;top:1555px" width="250" height="192" viewBox="-96 -96 250 192"><circle r="88" fill="#fff" stroke="#1f1f1f" stroke-width="5.8" stroke-dasharray="13.3 6.447" stroke-dashoffset="-1.4"/><circle r="68.7" fill="#ddeedc" stroke="#b5d9ab" stroke-width="7.4"/><circle cx="93" cy="0" r="23.8" fill="#cbcbcb"/><path d="M81.6 0H104.4M93 -11.4V11.4" stroke="#4a4a4a" stroke-width="3.4" fill="none"/></svg>
<div class="t" style="left:1952.8px;top:1596.9px;font-size:36px;color:#000;-webkit-text-stroke:0.8px #000;transform:scaleX(1.0558);transform-origin:0 50%;">105</div>
<div class="b" style="left:2023.1px;top:1613.1px;width:8px;height:8px;background:#8c8c8c;border-radius:50%;"></div>
<div class="t " style="left:2038.4px;top:1600.3px;font-size:32px;color:#8c8c8c;-webkit-text-stroke:0.55px #8c8c8c;">1</div>
<svg class="b" style="left:2139.7px;top:1705.7px" width="250" height="250" viewBox="-125 -125 250 250"><circle r="116.4" fill="#ecf6ed" stroke="#d9ecd5" stroke-width="12.5"/></svg>
<div class="t" style="left:2213.5px;top:1736.6px;font-size:36px;color:#7c7c7c;-webkit-text-stroke:0.8px #7c7c7c;transform:scaleX(1.0194);transform-origin:0 50%;">201</div>
<div class="b" style="left:2281.5px;top:1752.8px;width:8px;height:8px;background:#bababa;border-radius:50%;"></div>
<div class="t " style="left:2297.6px;top:1740.0px;font-size:32px;color:#bababa;-webkit-text-stroke:0.55px #bababa;">6</div>
<svg class="b" style="left:2492.7px;top:1697.2px" width="250" height="250" viewBox="-125 -125 250 250"><circle r="116.4" fill="#ecf6ed" stroke="#d9ecd5" stroke-width="12.5"/></svg>
<div class="t" style="left:2562.3px;top:1728.1px;font-size:36px;color:#7c7c7c;-webkit-text-stroke:0.8px #7c7c7c;transform:scaleX(1.1534);transform-origin:0 50%;">200</div>
<div class="b" style="left:2638.5px;top:1744.3px;width:8px;height:8px;background:#bababa;border-radius:50%;"></div>
<div class="t " style="left:2654.6px;top:1731.5px;font-size:32px;color:#bababa;-webkit-text-stroke:0.55px #bababa;">6</div>
<svg class="b" style="left:1780px;top:1685px" width="120" height="116" viewBox="1780 1685 120 116"><path d="M1794.4 1743H1880M1844.7 1701.9L1881 1743L1844.7 1784" fill="none" stroke="#d2d2d2" stroke-width="15.5" stroke-linecap="round" stroke-linejoin="round"/></svg>
<svg class="b" style="left:1780px;top:1835px" width="120" height="150" viewBox="1780 1835 120 150"><rect x="1787.1" y="1842" width="85" height="136.6" fill="#d18f5a"/><rect x="1787.1" y="1842" width="13.1" height="136.6" fill="#a06d42"/><g transform="translate(1802.2,1899.9) rotate(-41.8)"><rect x="0" y="0" width="56.5" height="57" fill="#7b888c"/><rect x="0" y="30.7" width="56.5" height="26.3" fill="#5f6c70"/><rect x="5.5" y="33.2" width="47.5" height="19" fill="#dcf3fd"/><rect x="18" y="2.5" width="19.5" height="5.2" fill="#697579"/></g></svg>
<div class="b" style="left:957.3px;top:1887.9px;width:154.4px;height:154.4px;background:#52ace5;border-radius:50%;box-shadow:2px 5px 10px rgba(0,0,0,.28);"></div>
<svg class="b" style="left:1000.8px;top:1931px;" width="67" height="67" viewBox="0 0 24 24"><path fill="#fff" d="M13.5 5.5c1.1 0 2-.9 2-2s-.9-2-2-2-2 .9-2 2 .9 2 2 2zM9.8 8.9L7 23h2.1l1.8-8 2.1 2v6h2v-7.5l-2.1-2 .6-3C14.8 12 16.8 13 19 13v-2c-1.9 0-3.5-1-4.3-2.4l-1-1.6c-.4-.6-1-1-1.7-1-.3 0-.5.1-.8.1L6 8.3V13h2V9.6l1.8-.7"/></svg>
<div class="b" style="left:957.3px;top:2086.5px;width:154.4px;height:154.4px;background:#52ace5;border-radius:50%;box-shadow:2px 5px 10px rgba(0,0,0,.28);"></div>
<svg class="b" style="left:1001.6px;top:2130.5px;" width="67" height="67" viewBox="0 0 24 24"><path fill="#fff" d="M19 3h-1V1h-2v2H8V1H6v2H5c-1.11 0-2 .9-2 2v14c0 1.1.89 2 2 2h14c1.1 0 2-.9 2-2V5c0-1.1-.9-2-2-2zm-7 3c1.66 0 3 1.34 3 3s-1.34 3-3 3-3-1.34-3-3 1.34-3 3-3zm6 12H6v-1c0-2 4-3.1 6-3.1s6 1.1 6 3.1v1z"/></svg>
<div class="b" style="left:1145.4px;top:2125px;width:116px;height:76px;background:#f6f6f6;border-radius:12px;"></div>
<div class="b" style="left:1299.8px;top:2125px;width:116px;height:76px;background:#f6f6f6;border-radius:12px;"></div>
<div class="b" style="left:1454.5px;top:2125px;width:116px;height:76px;background:#f6f6f6;border-radius:12px;"></div>
<div class="b" style="left:1609.4px;top:2125px;width:116px;height:76px;background:#f6f6f6;border-radius:12px;"></div>
<svg class="b" style="left:1174.5px;top:2134.5px;" width="58" height="58" viewBox="0 0 24 24"><path fill="#b0b0b0" d="M14 12c0-1.1-.9-2-2-2s-2 .9-2 2 .9 2 2 2 2-.9 2-2zm-2-9c-4.97 0-9 4.03-9 9H0l4 4 4-4H5c0-3.87 3.13-7 7-7s7 3.13 7 7-3.13 7-7 7c-1.51 0-2.91-.49-4.06-1.3l-1.42 1.44C8.04 20.3 9.94 21 12 21c4.97 0 9-4.03 9-9s-4.03-9-9-9z"/></svg>
<div class="b" style="left:1346.7px;top:2162.3px;width:22.4px;height:3.3px;background:#b0b0b0;"></div>
<div class="b" style="left:1501.6px;top:2162px;width:22.4px;height:3.3px;background:#b0b0b0;"></div>
<div class="b" style="left:1511.1px;top:2152.4px;width:3.3px;height:22.4px;background:#b0b0b0;"></div>
<svg class="b" style="left:1635.9px;top:2133px;" width="62.8" height="62.8" viewBox="0 0 24 24"><path fill="#b0b0b0" d="M3 13h2v-2H3v2zm0 4h2v-2H3v2zm0-8h2V7H3v2zm4 4h14v-2H7v2zm0 4h14v-2H7v2zM7 7v2h14V7H7z"/></svg>
<div class="b" style="left:0px;top:2197px;width:2809px;height:3px;background:#fff;"></div>
<div class="b" style="left:2806px;top:0px;width:3px;height:2200px;background:#fff;"></div>
</div>
</body></html>
